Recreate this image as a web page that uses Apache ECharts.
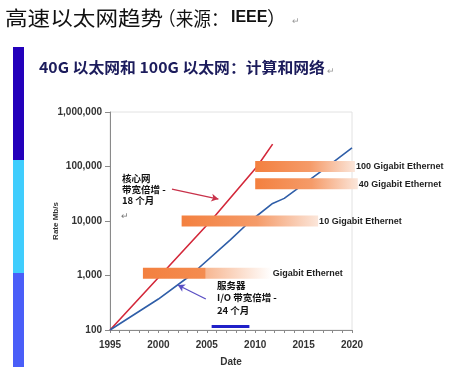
<!DOCTYPE html>
<html>
<head>
<meta charset="utf-8">
<script src="https://cdn.jsdelivr.net/npm/echarts@6/dist/echarts.min.js"></script>
<style>
html,body{margin:0;padding:0;background:#fff;}
#c{width:462px;height:367px;}
</style>
</head>
<body>
<div id="c"></div>
<script>
// ---- data ----
const coreYears = [1995, 2000.2, 2005.4, 2010.2, 2011.8];
const coreRate = [100, 1000, 10000, 100000, 257000];

const serverYears = [1995, 2000, 2003.3, 2007.4, 2009.5, 2011.8, 2013, 2016.7, 2020];
const serverRate = [100, 370, 1000, 4470, 10000, 21000, 26000, 79000, 220000];

const barNames = ['100 Gigabit Ethernet', '40 Gigabit Ethernet', '10 Gigabit Ethernet', 'Gigabit Ethernet'];
const barStart = [2010, 2010, 2002.4, 1998.4];
const barEnd = [2020.3, 2020.6, 2016.5, 2011.7];
const barLevel = [100000, 48000, 10000, 1100];

const xTicks = [1995, 2000, 2005, 2010, 2015, 2020];
const yTicks = [100, 1000, 10000, 100000, 1000000];

const coreArrow = [[2001.4, 38600], [2006.2, 25300]];
const serverArrow = [[2004.9, 371], [2002.0, 670]];
const markYears = [2005.5, 2009.4];
const markLevel = 116;

const titleMain = '高速以太网趋势';
const titleOpen = '（来源：';
const titleLatin = 'IEEE';
const titleClose = '）';
const subtitleText = '40G 以太网和 100G 以太网：计算和网络';
const coreNote = ['核心网', '带宽倍增 -', '18 个月'];
const serverNote = ['服务器', 'I/O 带宽倍增 -', '24 个月'];

// ---- chart ----
const chart = echarts.init(document.getElementById('c'), null, {renderer: 'canvas'});
const sans = "'Liberation Sans', Arial, sans-serif";
const cjk = "'Noto Sans CJK SC', 'Liberation Sans', sans-serif";

function barFill(i) {
  if (barNames[i] === 'Gigabit Ethernet') {
    return new echarts.graphic.LinearGradient(0, 0, 1, 0, [
      {offset: 0, color: '#f3803f'}, {offset: 0.48, color: '#f48c50'},
      {offset: 0.49, color: '#f7b792'}, {offset: 1, color: '#ffffff'}]);
  }
  return new echarts.graphic.LinearGradient(0, 0, 1, 0, [
    {offset: 0, color: '#f3803f'}, {offset: 0.55, color: '#f59b69'},
    {offset: 1, color: '#fbe6da'}]);
}

const option = {
  animation: false,
  grid: {left: 110, right: 110, top: 112, bottom: 37, show: true,
         outerBoundsMode: 'none', containLabel: false,
         borderColor: '#e2e2e2', borderWidth: 1, backgroundColor: 'transparent'},
  xAxis: {
    type: 'value', min: xTicks[0], max: xTicks[xTicks.length - 1], interval: 5,
    name: 'Date', nameLocation: 'middle', nameGap: 27, nameMoveOverlap: false,
    nameTextStyle: {fontFamily: sans, fontWeight: 'bold', fontSize: 10, color: '#333'},
    axisLine: {show: true, lineStyle: {color: '#8a8a8a', width: 1}},
    axisTick: {show: true, length: 3, lineStyle: {color: '#8a8a8a'}},
    minorTick: {show: true, splitNumber: 5, length: 3, lineStyle: {color: '#8a8a8a'}},
    splitLine: {show: false},
    axisLabel: {fontFamily: sans, fontWeight: 'bold', fontSize: 10, color: '#333', margin: 10,
                formatter: v => String(v)}
  },
  yAxis: {
    type: 'log', logBase: 10, min: yTicks[0], max: yTicks[yTicks.length - 1],
    name: 'Rate Mb/s', nameLocation: 'middle', nameGap: 50, nameRotate: 90, nameMoveOverlap: false,
    nameTextStyle: {fontFamily: sans, fontWeight: 'bold', fontSize: 8, color: '#333'},
    axisLine: {show: true, lineStyle: {color: '#8a8a8a', width: 1}},
    axisTick: {show: true, length: 5, lineStyle: {color: '#8a8a8a'}},
    splitLine: {show: false},
    axisLabel: {fontFamily: sans, fontWeight: 'bold', fontSize: 10, color: '#333', margin: 8,
                formatter: v => Number(v).toLocaleString('en-US')}
  },
  series: [
    {
      type: 'line', name: 'core', data: coreYears.map((y, i) => [y, coreRate[i]]),
      showSymbol: false, symbol: 'none', smooth: false,
      lineStyle: {color: '#d3283a', width: 1.6}, z: 3,
      markLine: {
        silent: true, symbol: ['none', 'arrow'], symbolSize: [6, 7],
        label: {show: false},
        lineStyle: {color: '#c8324a', width: 1.3, type: 'solid'},
        data: [[{coord: coreArrow[0]}, {coord: coreArrow[1]}]]
      }
    },
    {
      type: 'line', name: 'server', data: serverYears.map((y, i) => [y, serverRate[i]]),
      showSymbol: false, symbol: 'none', smooth: false,
      lineStyle: {color: '#2f5ea8', width: 1.6}, z: 3,
      markLine: {
        silent: true, symbol: ['none', 'arrow'], symbolSize: [6, 7],
        label: {show: false},
        lineStyle: {color: '#5a4fc4', width: 1.3, type: 'solid'},
        data: [[{coord: serverArrow[0]}, {coord: serverArrow[1]}]]
      }
    },
    {
      type: 'line', name: 'mark', data: markYears.map(y => [y, markLevel]),
      showSymbol: false, symbol: 'none',
      lineStyle: {color: '#2020c8', width: 3}, z: 4
    },
    {
      type: 'custom', name: 'bars', z: 5,
      data: barStart.map((s, i) => [s, barEnd[i], barLevel[i]]),
      encode: {x: [0, 1], y: 2},
      renderItem: function (params, api) {
        const i = params.dataIndex;
        const s = api.coord([api.value(0), api.value(2)]);
        const e = api.coord([api.value(1), api.value(2)]);
        const h = 11;
        return {
          type: 'group',
          children: [
            {type: 'rect', shape: {x: s[0], y: s[1] - h / 2, width: e[0] - s[0], height: h},
             style: {fill: barFill(i)}},
            {type: 'text', x: e[0] + 1, y: s[1] + 0.5,
             style: {text: barNames[i], font: "bold 9px 'Liberation Sans', Arial, sans-serif",
                     fill: '#1e1e1e', textAlign: 'left', textVerticalAlign: 'middle'}}
          ]
        };
      }
    }
  ],
  graphic: [
    // left decorative stripe
    {type: 'rect', left: 13, top: 47, shape: {width: 11, height: 113}, style: {fill: '#2300bb'}},
    {type: 'rect', left: 13, top: 160, shape: {width: 11, height: 113}, style: {fill: '#3fcdfd'}},
    {type: 'rect', left: 13, top: 273, shape: {width: 11, height: 94}, style: {fill: '#4a5ef8'}},
    // titles
    {type: 'text', x: 5, y: 8, scaleX: 1.13,
     style: {text: titleMain, fontFamily: cjk, fontSize: 20, fill: '#111'}},
    {type: 'text', x: 158, y: 9, scaleX: 0.93,
     style: {text: titleOpen, fontFamily: cjk, fontSize: 19, fill: '#111'}},
    {type: 'text', x: 231, y: 10,
     style: {text: titleLatin, fontFamily: sans, fontWeight: 'bold', fontSize: 16, fill: '#111'}},
    {type: 'text', x: 267, y: 9,
     style: {text: titleClose, fontFamily: cjk, fontSize: 19, fill: '#111'}},
    {type: 'text', x: 292, y: 16, style: {text: '↵', fontSize: 9, fill: '#999', fontFamily: cjk}},
    {type: 'text', x: 39, y: 60, scaleX: 1.055,
     style: {text: subtitleText, fontFamily: cjk, fontWeight: 'bold', fontSize: 15, fill: '#1c1c5c'}},
    {type: 'text', x: 327, y: 66, style: {text: '↵', fontSize: 9, fill: '#999', fontFamily: cjk}},
    // notes
    {type: 'text', x: 122, y: 173,
     style: {text: coreNote.join('\n'), fontFamily: cjk, fontWeight: 'bold', fontSize: 9.5,
             lineHeight: 11, fill: '#111'}},
    {type: 'text', x: 121, y: 211, style: {text: '↵', fontSize: 9, fill: '#777', fontFamily: cjk}},
    {type: 'text', x: 217, y: 279,
     style: {text: serverNote.join('\n'), fontFamily: cjk, fontWeight: 'bold', fontSize: 9.5,
             lineHeight: 12.5, fill: '#111'}}
  ]
};
chart.setOption(option);
</script>
</body>
</html>
